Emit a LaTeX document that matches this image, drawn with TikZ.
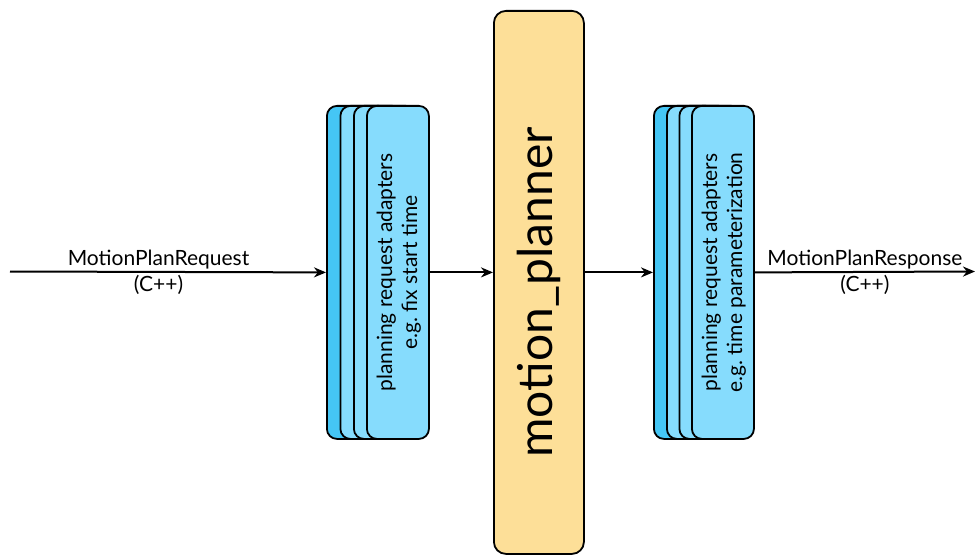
\documentclass[tikz,border=0pt]{standalone}
\usepackage{fontspec}
\setmainfont{Lato}
\usetikzlibrary{arrows.meta}
\definecolor{cardback}{HTML}{45C6F5}
\definecolor{cardfront}{HTML}{86DCFD}
\definecolor{plannerfill}{HTML}{FDDF98}
\begin{document}
\begin{tikzpicture}[x=1pt,y=-1pt,
  card/.style={draw=black, line width=1.8pt, rounded corners=10pt, fill=cardfront,
    minimum width=62pt, minimum height=333pt, anchor=north west, inner sep=0pt},
  backcard/.style={card, fill=cardback},
  cardtext/.style={rotate=90, align=center, font=\fontsize{21}{25}\selectfont},
  planner/.style={draw=black, line width=1.8pt, rounded corners=12pt, fill=plannerfill,
    minimum width=90pt, minimum height=543pt, anchor=north west, inner sep=0pt},
  flow/.style={draw=black, line width=2pt, -{Stealth[length=12pt,width=10pt]}},
  msg/.style={font=\fontsize{21}{23}\selectfont, inner sep=2pt}]

\useasboundingbox (0,0) rectangle (976,556);

% request adapters (left stack)
\node[backcard] (l1) at (326,105) {};
\node[card] (l2) at (339.5,105) {};
\node[card] (l3) at (353,105) {};
\node[card] (l4) at (366,105) {};
\node[cardtext] (ltext) at ([xshift=1pt]l4.center) {planning request adapters\\e.g.\ fix start time};

% planner
\node[planner] (mp) at (493,10) {};
\node[rotate=90, font=\fontsize{48}{50}\selectfont] (mptext) at ([yshift=-10pt]mp.center) {motion\_planner};

% response adapters (right stack)
\node[backcard] (r1) at (653,105) {};
\node[card] (r2) at (666,105) {};
\node[card] (r3) at (678.5,105) {};
\node[card] (r4) at (691,105) {};
\node[cardtext] (rtext) at ([xshift=1pt]r4.center) {planning request adapters\\e.g.\ time parameterization};

% connectors
\coordinate (src) at (10,271.5);
\coordinate (dst) at (975,271.5);
\draw[flow] (src) -- node[msg, above, pos=0.47] {MotionPlanRequest}
                     node[msg, below, pos=0.47] {(C++)} (l1.west);
\draw[flow] (l4.east) -- (mp.west |- l4.east);
\draw[flow] (mp.east |- r1.west) -- (r1.west);
\draw[flow] (r4.east) -- node[msg, above, pos=0.5] {MotionPlanResponse}
                         node[msg, below, pos=0.5] {(C++)} (dst);
\end{tikzpicture}
\end{document}
